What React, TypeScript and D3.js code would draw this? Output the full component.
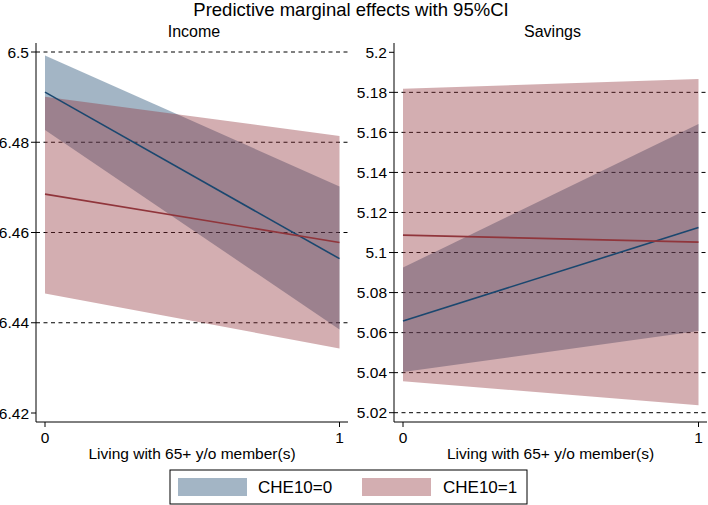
import React from "react";
import * as d3 from "d3";

// x categories: living with 65+ y/o member(s)
const xValues = [0, 1];

// Income panel
const incomeTicks = [6.42, 6.44, 6.46, 6.48, 6.5];
const incomeGrid = [6.44, 6.46, 6.48, 6.5];
const income0 = [6.4911, 6.4542];
const income0Lo = [6.4827, 6.4385];
const income0Hi = [6.4992, 6.4702];
const income1 = [6.4685, 6.4578];
const income1Lo = [6.4465, 6.4343];
const income1Hi = [6.4901, 6.4814];

// Savings panel
const savingsTicks = [5.02, 5.04, 5.06, 5.08, 5.1, 5.12, 5.14, 5.16, 5.18, 5.2];
const savingsGrid = [5.02, 5.04, 5.06, 5.08, 5.1, 5.12, 5.14, 5.16, 5.18];
const savings0 = [5.0658, 5.1125];
const savings0Lo = [5.0403, 5.0608];
const savings0Hi = [5.0925, 5.1642];
const savings1 = [5.1087, 5.1052];
const savings1Lo = [5.0357, 5.0237];
const savings1Hi = [5.1818, 5.1867];

const legendLabels = ["CHE10=0", "CHE10=1"];

const NAVY = "rgb(26,71,111)";
const MAROON = "rgb(144,53,59)";
const FONT = "'Liberation Sans', Arial, Helvetica, sans-serif";

type PanelProps = {
  title: string;
  left: number;
  right: number;
  yDomain: [number, number];
  yRange: [number, number];
  ticks: number[];
  grid: number[];
  series: { mid: number[]; lo: number[]; hi: number[]; color: string }[];
};

const Panel = ({ title, left, right, yDomain, yRange, ticks, grid, series }: PanelProps) => {
  const top = 43;
  const bottom = 422;
  const x = d3.scaleLinear().domain([0, 1]).range([left + 9, right - 8.5]);
  const y = d3.scaleLinear().domain(yDomain).range(yRange);
  const fmt = (v: number) => String(+v.toFixed(2));

  const area = (lo: number[], hi: number[]) =>
    d3
      .area<number>()
      .x((d) => x(d))
      .y0((_, i) => y(lo[i]))
      .y1((_, i) => y(hi[i]))(xValues) as string;
  const line = (mid: number[]) =>
    d3
      .line<number>()
      .x((d) => x(d))
      .y((_, i) => y(mid[i]))(xValues) as string;

  return (
    <g>
      <text x={(left + right) / 2 + 2} y={37} textAnchor="middle" fontSize={16} fontFamily={FONT}>
        {title}
      </text>
      {grid.map((g) => (
        <line key={g} x1={left} x2={right} y1={y(g)} y2={y(g)} stroke="#000" strokeWidth={1} strokeDasharray="4,3.5" />
      ))}
      {series.map((s, i) => (
        <path key={"a" + i} d={area(s.lo, s.hi)} fill={s.color} fillOpacity={0.4} />
      ))}
      {series.map((s, i) => (
        <path key={"l" + i} d={line(s.mid)} fill="none" stroke={s.color} strokeWidth={1.6} />
      ))}
      <line x1={left} x2={left} y1={top} y2={bottom} stroke="#000" strokeWidth={1} />
      <line x1={left} x2={right} y1={bottom} y2={bottom} stroke="#000" strokeWidth={1} />
      {ticks.map((t) => (
        <g key={t}>
          <line x1={left - 5} x2={left} y1={y(t)} y2={y(t)} stroke="#000" />
          <text x={left - 7} y={y(t)} dy="0.36em" textAnchor="end" fontSize={15.5} fontFamily={FONT}>
            {fmt(t)}
          </text>
        </g>
      ))}
      {xValues.map((v) => (
        <g key={v}>
          <line x1={x(v)} x2={x(v)} y1={bottom} y2={bottom + 5} stroke="#000" />
          <text x={x(v)} y={443} textAnchor="middle" fontSize={15.5} fontFamily={FONT}>
            {v}
          </text>
        </g>
      ))}
      <text x={(left + right) / 2} y={459} textAnchor="middle" fontSize={15.5} fontFamily={FONT}>
        Living with 65+ y/o member(s)
      </text>
    </g>
  );
};

export default function App() {
  return (
    <svg width={708} height={505} style={{ position: "absolute", left: 0, top: 0, background: "#fff" }}>
      <rect width={708} height={505} fill="#fff" />
      <text x={351} y={16} textAnchor="middle" fontSize={18.5} fontFamily={FONT}>
        Predictive marginal effects with 95%CI
      </text>
      <Panel
        title="Income"
        left={36}
        right={348}
        yDomain={[6.42, 6.5]}
        yRange={[413, 52]}
        ticks={incomeTicks}
        grid={incomeGrid}
        series={[
          { mid: income0, lo: income0Lo, hi: income0Hi, color: NAVY },
          { mid: income1, lo: income1Lo, hi: income1Hi, color: MAROON },
        ]}
      />
      <Panel
        title="Savings"
        left={394}
        right={707}
        yDomain={[5.02, 5.2]}
        yRange={[412.7, 52.3]}
        ticks={savingsTicks}
        grid={savingsGrid}
        series={[
          { mid: savings0, lo: savings0Lo, hi: savings0Hi, color: NAVY },
          { mid: savings1, lo: savings1Lo, hi: savings1Hi, color: MAROON },
        ]}
      />
      <g>
        <rect x={170} y={470} width={357} height={34} fill="#fff" stroke="#000" strokeWidth={1} />
        {legendLabels.map((l, i) => (
          <g key={l}>
            <rect x={178 + i * 184} y={478} width={69} height={18} fill={i === 0 ? NAVY : MAROON} fillOpacity={0.4} />
            <text x={258 + i * 185} y={493} fontSize={17} fontFamily={FONT}>
              {l}
            </text>
          </g>
        ))}
      </g>
    </svg>
  );
}
